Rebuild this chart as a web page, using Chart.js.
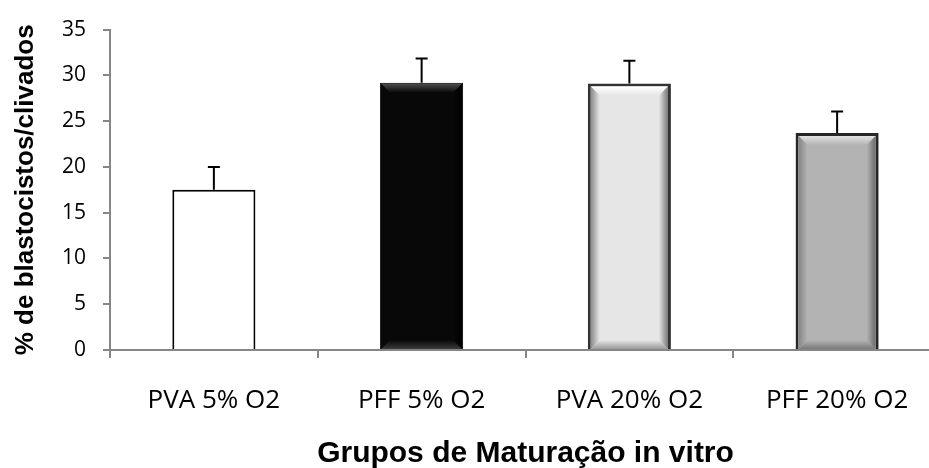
<!DOCTYPE html>
<html>
<head>
<meta charset="utf-8">
<title>Grupos de Maturação in vitro</title>
<script src="https://cdn.jsdelivr.net/npm/chart.js@4/dist/chart.umd.min.js"></script>
<style>
  html, body { margin: 0; padding: 0; background: #fff; overflow: hidden; }
  #wrap { width: 941px; height: 468px; }
</style>
</head>
<body>
<div id="wrap"><canvas id="chart" width="941" height="468"></canvas></div>
<script>
// --- data ---
const categories = ['PVA 5% O2', 'PFF 5% O2', 'PVA 20% O2', 'PFF 20% O2']
const values = [17.5, 29.2, 29.1, 23.7]
const errors = [2.5, 2.65, 2.5, 2.35]
const yTicks = [0, 5, 10, 15, 20, 25, 30, 35]

// --- bar looks (Excel style bevel) ---
const barStyles = [
  { fill: '#ffffff', border: '#000000', bw: 2, bevel: 0 },
  { fill: '#080808', border: '#000000', bw: 1, bevel: 9, top: '#4d4d4d', bottom: '#3a3a3a', left: '#080808', right: '#000000' },
  { fill: '#e6e6e6', border: '#333333', bw: 3, bevel: 9, top: '#ffffff', bottom: '#999999', left: '#8a8a8a', right: '#777777' },
  { fill: '#b3b3b3', border: '#262626', bw: 3, bevel: 9, top: '#e2e2e2', bottom: '#7a7a7a', left: '#858585', right: '#6a6a6a' },
]
const axisGrey = '#868686'

function quad(ctx, pts, grad) {
  ctx.beginPath()
  ctx.moveTo(pts[0][0], pts[0][1])
  for (const p of pts.slice(1)) ctx.lineTo(p[0], p[1])
  ctx.closePath()
  ctx.fillStyle = grad
  ctx.fill()
}

const bevel = {
  id: 'bevel',
  afterDatasetsDraw(chart) {
    const ctx = chart.ctx
    chart.getDatasetMeta(0).data.forEach((bar, i) => {
      const s = barStyles[i]
      if (!s.bevel) return
      const { x, y, base, width } = bar.getProps(['x', 'y', 'base', 'width'], true)
      const l = x - width / 2 + s.bw, r = x + width / 2 - s.bw, t = y + s.bw, b = base
      const d = s.bevel
      ctx.save()
      let g = ctx.createLinearGradient(0, t, 0, t + d)
      g.addColorStop(0, s.top); g.addColorStop(1, s.fill)
      quad(ctx, [[l, t], [r, t], [r - d, t + d], [l + d, t + d]], g)
      g = ctx.createLinearGradient(0, b, 0, b - d)
      g.addColorStop(0, s.bottom); g.addColorStop(1, s.fill)
      quad(ctx, [[l, b], [r, b], [r - d, b - d], [l + d, b - d]], g)
      g = ctx.createLinearGradient(l, 0, l + d, 0)
      g.addColorStop(0, s.left); g.addColorStop(1, s.fill)
      quad(ctx, [[l, t], [l + d, t + d], [l + d, b - d], [l, b]], g)
      g = ctx.createLinearGradient(r, 0, r - d, 0)
      g.addColorStop(0, s.right); g.addColorStop(1, s.fill)
      quad(ctx, [[r, t], [r - d, t + d], [r - d, b - d], [r, b]], g)
      ctx.restore()
    })
  }
}

const errorBars = {
  id: 'errorBars',
  afterDatasetsDraw(chart) {
    const ctx = chart.ctx
    const yScale = chart.scales.y
    chart.getDatasetMeta(0).data.forEach((bar, i) => {
      const top = yScale.getPixelForValue(values[i] + errors[i])
      ctx.save()
      ctx.strokeStyle = '#000'
      ctx.lineWidth = 2
      ctx.beginPath()
      ctx.moveTo(bar.x, bar.y)
      ctx.lineTo(bar.x, top)
      ctx.moveTo(bar.x - 6, top)
      ctx.lineTo(bar.x + 6, top)
      ctx.stroke()
      ctx.restore()
    })
  }
}

new Chart(document.getElementById('chart'), {
  type: 'bar',
  data: {
    labels: categories,
    datasets: [{
      data: values,
      backgroundColor: barStyles.map(s => s.fill),
      borderColor: barStyles.map(s => s.border),
      borderWidth: barStyles.map(s => s.bw),
      borderSkipped: 'bottom',
      categoryPercentage: 1,
      barPercentage: 0.4,
    }],
  },
  options: {
    responsive: false,
    animation: false,
    events: [],
    layout: { padding: { top: 27, right: 0, bottom: 0, left: 0 } },
    plugins: { legend: { display: false }, tooltip: { enabled: false } },
    scales: {
      x: {
        z: 1,
        afterFit: s => { s.height = 118 },
        border: { color: axisGrey, width: 2 },
        grid: { offset: true, drawOnChartArea: false, tickLength: 8, color: axisGrey, lineWidth: 2 },
        ticks: { color: '#000', padding: 27, font: { family: 'Open Sans', size: 26 } },
        title: {
          display: true,
          text: 'Grupos de Maturação in vitro',
          color: '#000',
          font: { family: 'Liberation Sans', size: 30, weight: 'bold' },
          padding: { top: 0, bottom: -4 },
        },
      },
      y: {
        min: 0,
        max: 35,
        afterFit: s => { s.width = 110 },
        afterBuildTicks: s => { s.ticks = yTicks.map(v => ({ value: v })) },
        border: { color: axisGrey, width: 2 },
        grid: { drawOnChartArea: false, tickLength: 7, color: axisGrey, lineWidth: 2 },
        ticks: { color: '#000', padding: 17, font: { family: 'Open Sans', size: 21 } },
        title: {
          display: true,
          text: '% de blastocistos/clivados',
          color: '#000',
          font: { family: 'Liberation Sans', size: 26, weight: 'bold' },
          padding: { top: 10, bottom: 0 },
        },
      },
    },
  },
  plugins: [bevel, errorBars],
})
</script>
</body>
</html>
